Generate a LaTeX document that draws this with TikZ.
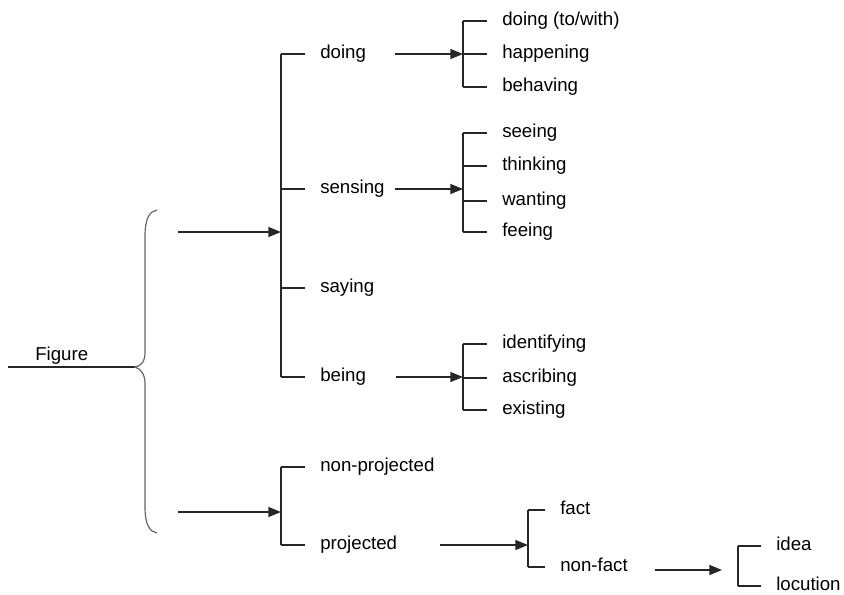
\documentclass[tikz,border=0pt]{standalone}
\usepackage{fontspec}
\setmainfont{Liberation Sans}
\usetikzlibrary{arrows.meta, positioning}

\begin{document}
\begin{tikzpicture}[
  x=0.75pt, y=-0.75pt,
  every node/.style={font=\fontsize{14}{16}\selectfont},
  leaf/.style={anchor=west, inner xsep=11.25pt, inner ysep=0pt,
               text height=1.6ex, text depth=0.4ex},
  link/.style={line width=1pt, draw=black!85},
  arr/.style={link, -{Triangle[length=9.5pt, width=7.5pt]}},
  brace/.style={line width=0.9pt, draw=black!60}
]
  \useasboundingbox (0,0) rectangle (844,594);

  % Root label and the curly brace
  \node[anchor=base west, inner sep=0pt] (figure) at (35,360) {Figure};
  \coordinate (figL) at (8,367);
  \coordinate (tip)  at (135,367);
  \draw[link] (figL) -- (tip);
  \draw[brace] (157,210) .. controls (150,211) and (145,218) .. (145,236)
               -- (145,352) .. controls (145,362) and (141,366) .. (tip)
               .. controls (141,369) and (145,374) .. (145,384)
               -- (145,507) .. controls (145,525) and (150,532) .. (157,533);

  % Arrows out of the brace
  \coordinate (bUp)  at (178,232);
  \coordinate (bLow) at (178,512);
  \coordinate (pBar) at (281,232);
  \coordinate (qBar) at (281,512);
  \draw[arr] (bUp)  -- (pBar);
  \draw[arr] (bLow) -- (qBar);

  % Process types
  \node[leaf] (doing)   at (305,54)  {doing};
  \node[leaf] (sensing) at (305,189) {sensing};
  \node[leaf] (saying)  at (305,288) {saying};
  \node[leaf] (being)   at (305,377) {being};
  \draw[link] (pBar |- doing) -- (pBar |- being);
  \foreach \n in {doing,sensing,saying,being}
    \draw[link] (pBar |- \n) -- (\n.west);

  % doing
  \coordinate (dOut) at (395,54);
  \coordinate (dBar) at (463,54);
  \draw[arr] (dOut) -- (dBar);
  \node[leaf] (dToWith) at (487,21) {doing (to/with)};
  \node[leaf] (dHappen) at (487,54) {happening};
  \node[leaf] (dBehave) at (487,87) {behaving};
  \draw[link] (dBar |- dToWith) -- (dBar |- dBehave);
  \foreach \n in {dToWith,dHappen,dBehave}
    \draw[link] (dBar |- \n) -- (\n.west);

  % sensing
  \coordinate (sOut) at (395,189);
  \coordinate (sBar) at (463,189);
  \draw[arr] (sOut) -- (sBar);
  \node[leaf] (sSee)   at (487,133) {seeing};
  \node[leaf] (sThink) at (487,166) {thinking};
  \node[leaf] (sWant)  at (487,201) {wanting};
  \node[leaf] (sFeel)  at (487,232) {feeing};
  \draw[link] (sBar |- sSee) -- (sBar |- sFeel);
  \foreach \n in {sSee,sThink,sWant,sFeel}
    \draw[link] (sBar |- \n) -- (\n.west);

  % being
  \coordinate (rOut) at (396,377);
  \coordinate (rBar) at (463,377);
  \draw[arr] (rOut) -- (rBar);
  \node[leaf] (rIdent)  at (487,344) {identifying};
  \node[leaf] (rAscr)   at (487,378) {ascribing};
  \node[leaf] (rExist)  at (487,410) {existing};
  \draw[link] (rBar |- rIdent) -- (rBar |- rExist);
  \foreach \n in {rIdent,rAscr,rExist}
    \draw[link] (rBar |- \n) -- (\n.west);

  % Projection
  \node[leaf] (nonproj) at (305,467) {non-projected};
  \node[leaf] (proj)    at (305,545) {projected};
  \draw[link] (qBar |- nonproj) -- (qBar |- proj);
  \foreach \n in {nonproj,proj}
    \draw[link] (qBar |- \n) -- (\n.west);

  \coordinate (jOut) at (440,545);
  \coordinate (fBar) at (528,545);
  \draw[arr] (jOut) -- (fBar);
  \node[leaf] (fact)    at (545,510) {fact};
  \node[leaf] (nonfact) at (545,567) {non-fact};
  \draw[link] (fBar |- fact) -- (fBar |- nonfact);
  \foreach \n in {fact,nonfact}
    \draw[link] (fBar |- \n) -- (\n.west);

  \coordinate (nOut) at (655,570);
  \coordinate (nIn)  at (722,570);
  \coordinate (lBar) at (738,570);
  \draw[arr] (nOut) -- (nIn);
  \node[leaf] (idea)     at (761,546) {idea};
  \node[leaf] (locution) at (761,586) {locution};
  \draw[link] (lBar |- idea) -- (lBar |- locution);
  \foreach \n in {idea,locution}
    \draw[link] (lBar |- \n) -- (\n.west);
\end{tikzpicture}
\end{document}
